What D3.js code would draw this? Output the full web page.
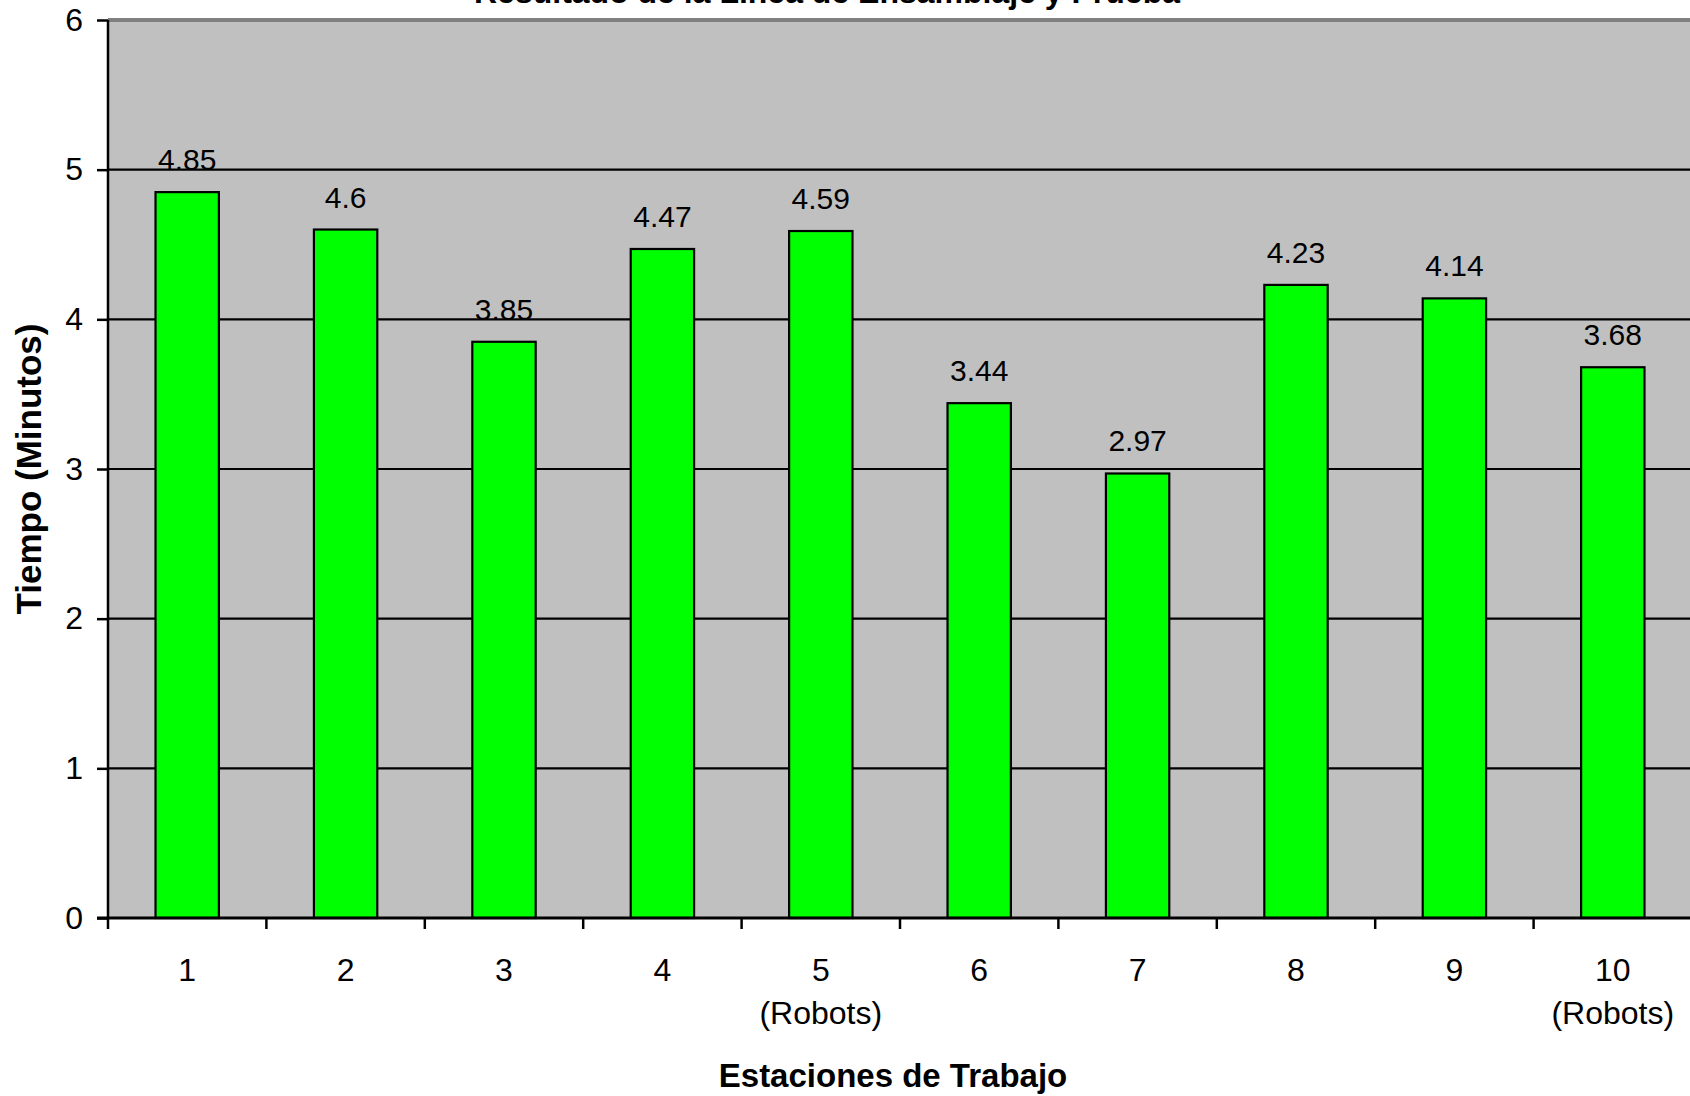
<!DOCTYPE html>
<html>
<head>
<meta charset="utf-8">
<script src="https://cdn.jsdelivr.net/npm/d3@7"></script>
<style>
  html, body { margin: 0; padding: 0; background: #fff; overflow: hidden; }
  svg { display: block; font-family: "Liberation Sans", Arial, sans-serif; }
</style>
</head>
<body>
<svg id="chart" width="1690" height="1096"></svg>
<script>
// Station times (minutes)
const categories = ["1", "2", "3", "4", "5", "6", "7", "8", "9", "10"];
const categoryNotes = ["", "", "", "", "(Robots)", "", "", "", "", "(Robots)"];
const tiempos = [4.85, 4.6, 3.85, 4.47, 4.59, 3.44, 2.97, 4.23, 4.14, 3.68];
const valueLabels = ["4.85", "4.6", "3.85", "4.47", "4.59", "3.44", "2.97", "4.23", "4.14", "3.68"];
const yTicks = [0, 1, 2, 3, 4, 5, 6];
const chartTitle = "Resultado de la Línea de Ensamblaje y Prueba";
const xTitle = "Estaciones de Trabajo";
const yTitle = "Tiempo (Minutos)";

const svg = d3.select("#chart");
const plot = { left: 108, right: 1692, top: 20, bottom: 918 };

const x = d3.scaleBand()
  .domain(categories)
  .range([plot.left, plot.right])
  .paddingInner(0.6)
  .paddingOuter(0.3);

const y = d3.scaleLinear()
  .domain([0, 6])
  .range([plot.bottom, plot.top]);

// plot area
svg.append("rect")
  .attr("x", plot.left).attr("y", plot.top)
  .attr("width", plot.right - plot.left).attr("height", plot.bottom - plot.top)
  .attr("fill", "#c0c0c0");

// top border of plot area
svg.append("line")
  .attr("x1", plot.left).attr("x2", plot.right)
  .attr("y1", y(6)).attr("y2", y(6))
  .attr("stroke", "#808080").attr("stroke-width", 4);

// gridlines
svg.append("g").selectAll("line")
  .data(yTicks.filter(d => d > 0 && d < 6))
  .join("line")
  .attr("x1", plot.left).attr("x2", plot.right)
  .attr("y1", d => y(d)).attr("y2", d => y(d))
  .attr("stroke", "#000").attr("stroke-width", 2.2);

// bars
svg.append("g").selectAll("rect")
  .data(tiempos)
  .join("rect")
  .attr("x", (d, i) => x(categories[i]))
  .attr("y", d => y(d))
  .attr("width", x.bandwidth())
  .attr("height", d => y(0) - y(d))
  .attr("fill", "#00ff00")
  .attr("stroke", "#000")
  .attr("stroke-width", 2.2);

// value labels
svg.append("g").selectAll("text")
  .data(tiempos)
  .join("text")
  .attr("x", (d, i) => x(categories[i]) + x.bandwidth() / 2)
  .attr("y", d => y(d) - 22)
  .attr("text-anchor", "middle")
  .attr("font-size", 30)
  .attr("fill", "#000")
  .text((d, i) => valueLabels[i]);

// y axis
const yAxis = d3.axisLeft(y)
  .tickValues(yTicks)
  .tickSize(11)
  .tickPadding(14)
  .tickFormat(d3.format("d"));
const gy = svg.append("g")
  .attr("transform", `translate(${plot.left},0)`)
  .call(yAxis);
gy.select(".domain").attr("stroke", "#000").attr("stroke-width", 2.5)
  .attr("d", `M0,${plot.top}V${plot.bottom}`);
gy.selectAll(".tick line").attr("stroke", "#000").attr("stroke-width", 2.5);
gy.selectAll(".tick text")
  .attr("font-size", 32)
  .attr("font-family", "\"Liberation Sans\", Arial, sans-serif")
  .attr("fill", "#000");

// x axis: ticks sit between categories
const boundaries = d3.range(categories.length + 1).map(i => plot.left + i * x.step());
const gx = svg.append("g");
gx.append("line")
  .attr("x1", plot.left - 11).attr("x2", plot.right)
  .attr("y1", plot.bottom).attr("y2", plot.bottom)
  .attr("stroke", "#000").attr("stroke-width", 2.8);
gx.selectAll("line.tk")
  .data(boundaries)
  .join("line")
  .attr("class", "tk")
  .attr("x1", d => d).attr("x2", d => d)
  .attr("y1", plot.bottom).attr("y2", plot.bottom + 11)
  .attr("stroke", "#000").attr("stroke-width", 2.5);

const catLabels = gx.selectAll("text.cat")
  .data(categories)
  .join("text")
  .attr("class", "cat")
  .attr("x", d => x(d) + x.bandwidth() / 2)
  .attr("y", 981)
  .attr("text-anchor", "middle")
  .attr("font-size", 32)
  .attr("fill", "#000");
catLabels.append("tspan").text(d => d);
catLabels.append("tspan")
  .attr("x", d => x(d) + x.bandwidth() / 2)
  .attr("dy", 43)
  .text((d, i) => categoryNotes[i]);

// titles
svg.append("text")
  .attr("x", 827).attr("y", 3)
  .attr("text-anchor", "middle")
  .attr("font-size", 32).attr("font-weight", "bold")
  .text(chartTitle);

svg.append("text")
  .attr("x", 893).attr("y", 1087)
  .attr("text-anchor", "middle")
  .attr("font-size", 33).attr("font-weight", "bold")
  .text(xTitle);

svg.append("text")
  .attr("transform", "translate(41,469) rotate(-90)")
  .attr("text-anchor", "middle")
  .attr("font-size", 35).attr("font-weight", "bold")
  .text(yTitle);
</script>
</body>
</html>
